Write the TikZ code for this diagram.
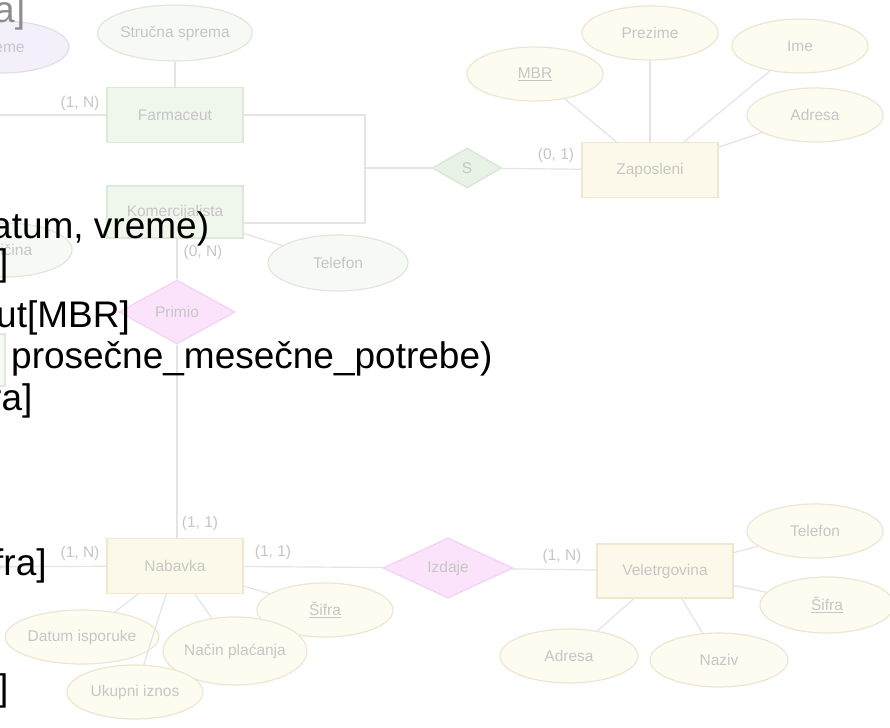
\documentclass[tikz,border=0pt]{standalone}
\usepackage{fontspec}
\setmainfont{Liberation Sans}
\usetikzlibrary{shapes.geometric}
\definecolor{lnkgray}{HTML}{E4E4E4}
\definecolor{txtgray}{HTML}{C6C6C6}
\definecolor{grnfill}{HTML}{EFF6EC}
\definecolor{grndraw}{HTML}{DCE9D7}
\definecolor{ylwfill}{HTML}{FDF9EA}
\definecolor{ylwdraw}{HTML}{EFE8CF}
\definecolor{atyfill}{HTML}{FEFBF1}
\definecolor{atydraw}{HTML}{ECE6D2}
\definecolor{atgfill}{HTML}{F7F9F5}
\definecolor{atgdraw}{HTML}{E1E6DE}
\definecolor{atpfill}{HTML}{F4F0FB}
\definecolor{atpdraw}{HTML}{E3DCEC}
\definecolor{relgfill}{HTML}{E9F3E5}
\definecolor{relgdraw}{HTML}{D7E5D2}
\definecolor{relpfill}{HTML}{FBE4FB}
\definecolor{relpdraw}{HTML}{F1D2F1}
\begin{document}
\begin{tikzpicture}[x=1pt,y=-1pt,
  er/.style={line width=1.2pt,text=txtgray,font=\fontsize{15.5}{15.5}\selectfont,inner sep=0pt},
  entG/.style={er,rectangle,draw=grndraw,fill=grnfill,minimum width=136pt,minimum height=55pt},
  entY/.style={er,rectangle,draw=ylwdraw,fill=ylwfill,minimum width=136pt,minimum height=55pt},
  atY/.style={er,ellipse,draw=atydraw,fill=atyfill,minimum width=136pt,minimum height=54pt},
  atG/.style={er,ellipse,draw=atgdraw,fill=atgfill,minimum width=136pt,minimum height=56pt},
  atP/.style={er,ellipse,draw=atpdraw,fill=atpfill,minimum width=134pt,minimum height=52pt},
  relG/.style={er,diamond,draw=relgdraw,fill=relgfill},
  relP/.style={er,diamond,draw=relpdraw,fill=relpfill},
  lnk/.style={line width=1.2pt,draw=lnkgray},
  card/.style={text=txtgray,font=\fontsize{15.5}{15.5}\selectfont,inner sep=0pt},
  ovl/.style={anchor=base west,inner sep=0pt,font=\fontsize{37}{37}\selectfont}]
\useasboundingbox (0,0) rectangle (890,727);
\fill[white] (0,0) rectangle (890,727);
% gornji deo
\node[atP] (Vreme) at (2,47) {Vreme};
\node[atG] (Struc) at (175,33) {Stručna sprema};
\node[entG] (Farm) at (175,115) {Farmaceut};
\node[entG,minimum height=52pt] (Kom) at (175,212) {Komercijalista};
\node[atG,minimum width=134pt,minimum height=54pt] (Kol) at (5,250) {Količina};
\node[atG,rectangle,minimum height=52pt] (Lek) at (-63,360) {};
\node[atG,minimum width=140pt] (TelK) at (338,263) {Telefon};
\node[relG,minimum width=69pt,minimum height=40pt] (S) at (467,168) {S};
\node[entY] (Zap) at (650,170) {Zaposleni};
\node[atY] (MBR) at (535,74) {\underline{MBR}};
\node[atY] (Prez) at (650,33) {Prezime};
\node[atY] (Ime) at (800,46) {Ime};
\node[atY] (AdrZ) at (815,115) {Adresa};
\coordinate (SJ) at (365,168);
\coordinate (FL) at (-5,115);
\draw[lnk] (Struc)--(Farm); \draw[lnk] (FL)--(Farm.west);
\draw[lnk] (Farm.east) -| (SJ); \draw[lnk] ([yshift=-11pt]Kom.east) -| (SJ);
\draw[lnk] (SJ)--(S); \draw[lnk] (S)--(Zap);
\draw[lnk] (MBR)--(Zap); \draw[lnk] (Prez)--(Zap); \draw[lnk] (Ime)--(Zap); \draw[lnk] (AdrZ)--(Zap);
\draw[lnk] (Kom)--(TelK);
\node[card] at (80,103) {(1, N)};
\node[card] at (556,155) {(0, 1)};
% donji deo
\node[relP,minimum width=116pt,minimum height=64pt] (Primio) at (177,312) {Primio};
\node[entY] (Nab) at (175,566) {Nabavka};
\node[relP,minimum width=130pt,minimum height=60pt] (Lrel) at (-62,567) {};
\node[relP,minimum width=130pt,minimum height=60pt] (Izdaje) at (448,568) {Izdaje};
\node[entY,minimum height=54pt] (Velet) at (665,571) {Veletrgovina};
\node[atY] (SifN) at (325,610) {\underline{Šifra}};
\node[atY] (DatI) at (82,637) {Datum isporuke};
\node[atY,minimum width=130pt,minimum height=68pt] (Nacin) at (235,651) {Način plaćanja};
\node[atY] (Ukup) at (135,692) {Ukupni iznos};
\node[atY] (TelV) at (815,531) {Telefon};
\node[atY,minimum width=134pt,minimum height=56pt] (SifV) at (827,605) {\underline{Šifra}};
\node[atY,minimum width=138pt] (AdrV) at (569,656) {Adresa};
\node[atY,minimum width=138pt] (Naziv) at (719,660) {Naziv};
\draw[lnk] (Kom.south -| Primio)--(Primio); \draw[lnk] (Primio)--(Nab.north -| Primio);
\draw[lnk] (Lrel)--(Nab); \draw[lnk] (Nab)--(Izdaje); \draw[lnk] (Izdaje)--(Velet);
\draw[lnk] (Nab)--(SifN); \draw[lnk] (Nab)--(DatI); \draw[lnk] (Nab)--(Nacin); \draw[lnk] (Nab)--(Ukup);
\draw[lnk] (Velet)--(TelV); \draw[lnk] (Velet)--(SifV); \draw[lnk] (Velet)--(AdrV); \draw[lnk] (Velet)--(Naziv);
\node[card] at (203,252) {(0, N)};
\node[card] at (200,523) {(1, 1)};
\node[card] at (80,553) {(1, N)};
\node[card] at (273,552) {(1, 1)};
\node[card] at (562,556) {(1, N)};
% tekst preko slike
\node[ovl,text=black!45] (T0) at (-6,23) {a]};
\node[ovl] (T1) at (-9,238) {atum, vreme)};
\node[ovl] (T2) at (-2,275) {]};
\node[ovl] (T3) at (-4,327) {ut[MBR]};
\node[ovl] (T4) at (11,368) {prosečne\_mesečne\_potrebe)};
\node[ovl] (T5) at (-11,410) {ra]};
\node[ovl] (T6) at (-7,575) {fra]};
\node[ovl] (T7) at (-2,700) {]};
\end{tikzpicture}
\end{document}
